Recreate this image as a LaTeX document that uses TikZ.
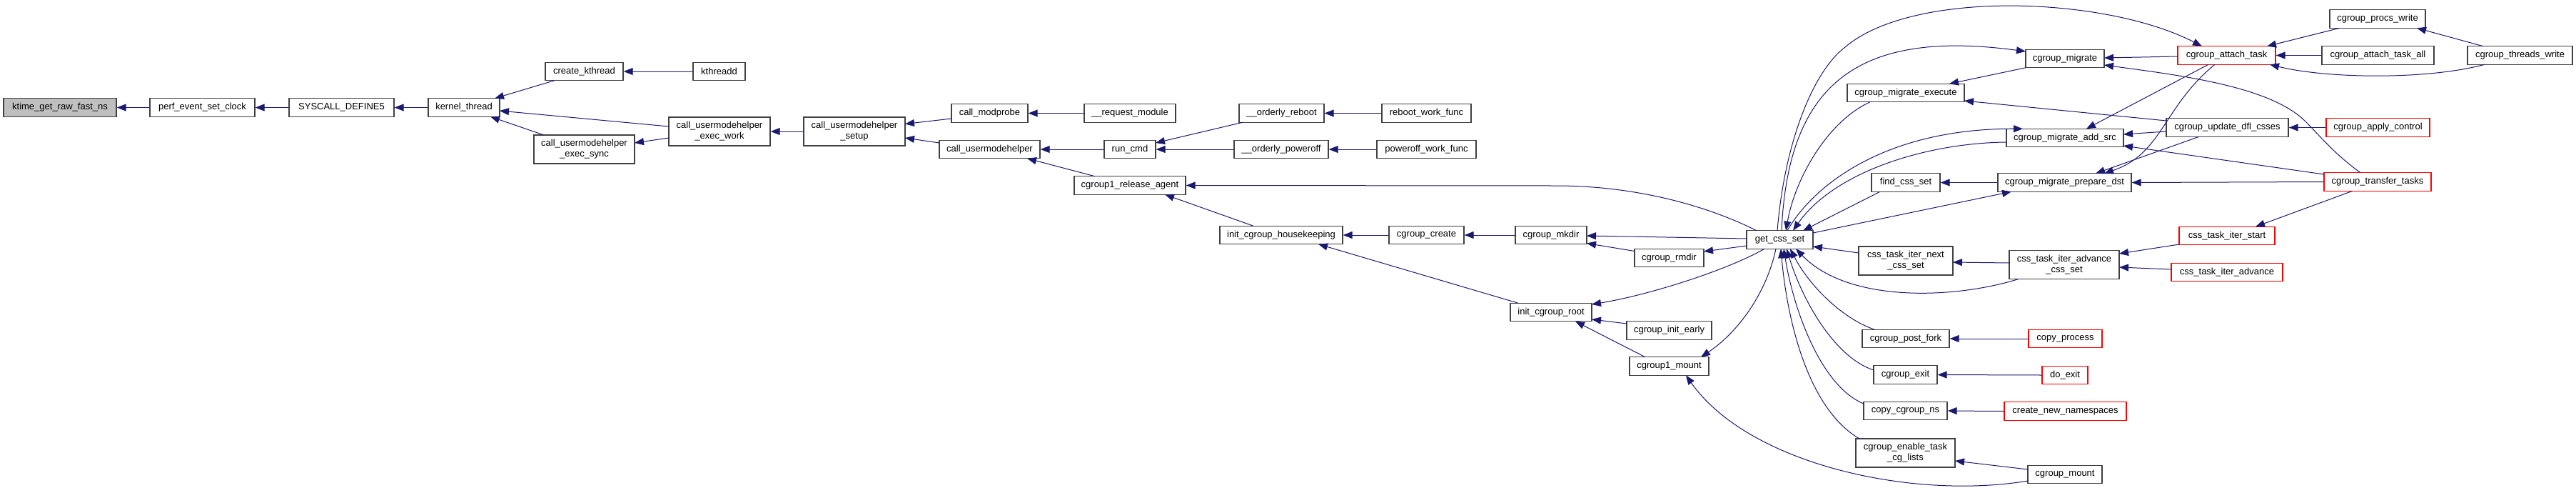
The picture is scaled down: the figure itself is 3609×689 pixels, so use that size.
\documentclass[tikz,border=0pt]{standalone}
\usepackage{fontspec}
\setmainfont{Liberation Sans}
\usetikzlibrary{arrows.meta,calc}
\definecolor{edgeblue}{RGB}{25,25,112}
\definecolor{boxline}{RGB}{64,64,64}
\definecolor{startfill}{RGB}{191,191,191}
\definecolor{redline}{RGB}{255,0,0}
\begin{document}
\begin{tikzpicture}[x=1pt,y=-1pt,
  fn/.style={draw=boxline, line width=1.3pt, fill=white, inner sep=0pt, minimum height=25.5pt, align=center, font=\fontsize{13}{15}\selectfont},
  fn2/.style={fn, minimum height=40pt},
  redbox/.style={draw=redline},
  e/.style={draw=edgeblue, line width=1.0pt, -{Triangle[length=13pt,width=10pt]}}]
\useasboundingbox (0,0) rectangle (3609,689);
% nodes
\node[fn, fill=startfill, minimum width=158pt] (ktime) at (84,150.5) {ktime\_get\_raw\_fast\_ns};
\node[fn, minimum width=147pt] (perf) at (283.5,150.5) {perf\_event\_set\_clock};
\node[fn, minimum width=147pt] (sysdef) at (478.5,150.5) {SYSCALL\_DEFINE5};
\node[fn, minimum width=100pt] (kthread) at (650,150.5) {kernel\_thread};
\node[fn, minimum width=109pt] (ckthread) at (818.5,100) {create\_kthread};
\node[fn, minimum width=73pt] (kthreadd) at (1007.5,100) {kthreadd};
\node[fn2, minimum width=142pt] (cuhwork) at (1008,184) {call\_usermodehelper\\\_exec\_work};
\node[fn2, minimum width=141pt] (cuhsync) at (818.5,209) {call\_usermodehelper\\\_exec\_sync};
\node[fn2, minimum width=142pt] (cuhsetup) at (1197,184) {call\_usermodehelper\\\_setup};
\node[fn, minimum width=107pt] (modprobe) at (1386.5,158.5) {call\_modprobe};
\node[fn, minimum width=128pt] (reqmod) at (1583,158.5) {\_\_request\_module};
\node[fn, minimum width=141pt] (cuh) at (1386.5,209) {call\_usermodehelper};
\node[fn, minimum width=72pt] (runcmd) at (1583,209) {run\_cmd};
\node[fn, minimum width=156pt] (relagent) at (1583,259.5) {cgroup1\_release\_agent};
\node[fn, minimum width=119pt] (oreboot) at (1795.5,158.5) {\_\_orderly\_reboot};
\node[fn, minimum width=132pt] (opoweroff) at (1795,209) {\_\_orderly\_poweroff};
\node[fn, minimum width=125pt] (rebootwf) at (1998.5,158.5) {reboot\_work\_func};
\node[fn, minimum width=139pt] (poweroffwf) at (1998.5,209) {poweroff\_work\_func};
\node[fn, minimum width=172pt] (housekeep) at (1795,329) {init\_cgroup\_housekeeping};
\node[fn, minimum width=105pt] (ccreate) at (1998.5,329) {cgroup\_create};
\node[fn, minimum width=100pt] (mkdir) at (2173,329) {cgroup\_mkdir};
\node[fn, minimum width=97pt] (rmdir) at (2338.5,361) {cgroup\_rmdir};
\node[fn, minimum width=114pt] (initroot) at (2173,437) {init\_cgroup\_root};
\node[fn, minimum width=119pt] (initearly) at (2338.5,462.5) {cgroup\_init\_early};
\node[fn, minimum width=111pt] (c1mount) at (2338.5,512.5) {cgroup1\_mount};
\node[fn, minimum width=93pt] (getcss) at (2493.5,335.5) {get\_css\_set};
\node[fn, minimum width=110pt] (migrate) at (2893,82) {cgroup\_migrate};
\node[fn, minimum width=164pt] (mexec) at (2670,130) {cgroup\_migrate\_execute};
\node[fn, minimum width=164pt] (addsrc) at (2893,193) {cgroup\_migrate\_add\_src};
\node[fn, minimum width=96pt] (findcss) at (2670,255.5) {find\_css\_set};
\node[fn, minimum width=187pt] (prepdst) at (2892.5,255.5) {cgroup\_migrate\_prepare\_dst};
\node[fn2, minimum width=132pt] (nextcss) at (2670,365) {css\_task\_iter\_next\\\_css\_set};
\node[fn2, minimum width=154pt] (advcss) at (2892,370.5) {css\_task\_iter\_advance\\\_css\_set};
\node[fn, minimum width=122pt] (postfork) at (2670,474) {cgroup\_post\_fork};
\node[fn, redbox, minimum width=103pt] (copyproc) at (2893.5,474) {copy\_process};
\node[fn, minimum width=89pt] (cexit) at (2669.5,524.5) {cgroup\_exit};
\node[fn, redbox, minimum width=64pt] (doexit) at (2893,525) {do\_exit};
\node[fn, minimum width=117pt] (copyns) at (2669.5,575) {copy\_cgroup\_ns};
\node[fn, redbox, minimum width=171pt] (newns) at (2893.5,575.5) {create\_new\_namespaces};
\node[fn2, minimum width=139pt] (enable) at (2669.5,634) {cgroup\_enable\_task\\\_cg\_lists};
\node[fn, minimum width=104pt] (cmount) at (2893,664) {cgroup\_mount};
\node[fn, redbox, minimum width=137pt] (attach) at (3119.5,77.5) {cgroup\_attach\_task};
\node[fn, minimum width=134pt] (procs) at (3331,26.5) {cgroup\_procs\_write};
\node[fn, minimum width=157pt] (attachall) at (3331.5,77.5) {cgroup\_attach\_task\_all};
\node[fn, minimum width=147pt] (threads) at (3530.5,77.5) {cgroup\_threads\_write};
\node[fn, minimum width=171pt] (updfl) at (3120.5,178.5) {cgroup\_update\_dfl\_csses};
\node[fn, redbox, minimum width=145pt] (applyc) at (3331.5,178.5) {cgroup\_apply\_control};
\node[fn, redbox, minimum width=150pt] (transfer) at (3331,254.5) {cgroup\_transfer\_tasks};
\node[fn, redbox, minimum width=134pt] (itstart) at (3120,330) {css\_task\_iter\_start};
\node[fn, redbox, minimum width=156pt] (itadv) at (3120,381) {css\_task\_iter\_advance};
% edges (tail = caller, head = callee)
\draw[e] (perf.west) -- (ktime.east);
\draw[e] (sysdef.west) -- (perf.east);
\draw[e] (kthread.west) -- (sysdef.east);
\draw[e] ($(ckthread)+(-42,12.75)$) -- ($(kthread)+(43,-12.75)$);
\draw[e] ($(cuhwork)+(-71,-7)$) -- ($(kthread)+(50,4.5)$);
\draw[e] ($(cuhsync)+(-56.5,-20)$) -- ($(kthread)+(37,12.75)$);
\draw[e] (kthreadd.west) -- (ckthread.east);
\draw[e] ($(cuhwork)+(-71,9)$) -- ($(cuhsync)+(70.5,-9)$);
\draw[e] (cuhsetup.west) -- (cuhwork.east);
\draw[e] ($(modprobe)+(-53.5,7.5)$) -- ($(cuhsetup)+(71,-10.5)$);
\draw[e] ($(cuh)+(-70.5,-9)$) -- ($(cuhsetup)+(71,9)$);
\draw[e] (reqmod.west) -- (modprobe.east);
\draw[e] (runcmd.west) -- (cuh.east);
\draw[e] ($(relagent)+(-49,-12.75)$) -- ($(cuh)+(52.5,12.75)$);
\draw[e] ($(oreboot)+(-54.5,12.75)$) -- ($(runcmd)+(36,-9)$);
\draw[e] (opoweroff.west) -- (runcmd.east);
\draw[e] (rebootwf.west) -- (oreboot.east);
\draw[e] (poweroffwf.west) -- (opoweroff.east);
\draw[e] ($(getcss)+(-32.5,-12.75)$) .. controls (2400,292) and (2300,260) .. (2180,260) -- (relagent.east);
\draw[e] ($(housekeep)+(-39,-12.75)$) -- ($(relagent)+(49,12.75)$);
\draw[e] (ccreate.west) -- (housekeep.east);
\draw[e] ($(initroot)+(-46,-12.75)$) -- ($(housekeep)+(52,12.75)$);
\draw[e] (mkdir.west) -- (ccreate.east);
\draw[e] ($(getcss)+(-46.5,-1.5)$) -- ($(mkdir)+(50,1)$);
\draw[e] ($(rmdir)+(-48.5,-9.5)$) -- ($(mkdir)+(50,11.5)$);
\draw[e] ($(getcss)+(-46.5,8.5)$) -- ($(rmdir)+(48.5,-9)$);
\draw[e] ($(getcss)+(-21.5,12.75)$) .. controls (2420,378) and (2310,413) .. ($(initroot)+(57,-11)$);
\draw[e] ($(initearly)+(-59.5,-9.5)$) -- ($(initroot)+(57,10)$);
\draw[e] ($(c1mount)+(-33.5,-12.75)$) -- ($(initroot)+(34,12.75)$);
\draw[e] ($(getcss)+(-5.5,12.75)$) .. controls (2475,410) and (2435,465) .. ($(c1mount)+(44.5,-12.75)$);
\draw[e] ($(cmount)+(-52,9)$) .. controls (2680,700) and (2450,650) .. ($(c1mount)+(23.5,12.75)$);
% get_css_set right side
\draw[e] ($(getcss)+(-3.5,-12.75)$) .. controls (2500,200) and (2540,100) .. (2585,66) .. controls (2680,-15) and (2950,-5) .. ($(attach)+(-34.5,-12.75)$);
\draw[e] ($(getcss)+(2.5,-12.75)$) .. controls (2505,120) and (2600,40) .. ($(migrate)+(-55,-10)$);
\draw[e] ($(mexec)+(-50,12.75)$) .. controls (2560,170) and (2515,250) .. ($(getcss)+(8.5,-12.75)$);
\draw[e] ($(getcss)+(10.5,-12.75)$) .. controls (2540,260) and (2640,180) .. ($(addsrc)+(-59,-12.75)$);
\draw[e] ($(addsrc)+(-82,6)$) .. controls (2700,200) and (2570,240) .. ($(getcss)+(18.5,-12.75)$);
\draw[e] ($(findcss)+(-36,12.75)$) -- ($(getcss)+(32.5,-12.75)$);
\draw[e] ($(getcss)+(46.5,-9.5)$) -- ($(prepdst)+(-74.5,12.75)$);
\draw[e] ($(nextcss)+(-66,-11)$) -- ($(getcss)+(46.5,9.5)$);
\draw[e] ($(advcss)+(-64,20)$) .. controls (2740,418) and (2590,425) .. ($(getcss)+(22.5,12.75)$);
\draw[e] ($(postfork)+(-44,-12.75)$) .. controls (2580,445) and (2535,400) .. ($(getcss)+(14.5,12.75)$);
\draw[e] ($(cexit)+(-44.5,-6.5)$) .. controls (2570,500) and (2525,420) .. ($(getcss)+(9.5,12.75)$);
\draw[e] ($(copyns)+(-58.5,-10)$) .. controls (2550,540) and (2512,430) .. ($(getcss)+(5.5,12.75)$);
\draw[e] ($(enable)+(-64.5,-20)$) .. controls (2530,570) and (2503,440) .. ($(getcss)+(1.5,12.75)$);
% right part
\draw[e] ($(attach)+(-68.5,1.5)$) -- ($(migrate)+(55,-1)$);
\draw[e] ($(transfer)+(-24,-12.75)$) .. controls (3270,215) and (3250,190) .. (3230,170) .. controls (3180,120) and (3050,105) .. ($(migrate)+(55,9)$);
\draw[e] ($(migrate)+(-55,12.75)$) -- ($(mexec)+(61,-12.75)$);
\draw[e] ($(updfl)+(-85.5,-9.5)$) -- ($(mexec)+(82,11)$);
\draw[e] ($(attach)+(-25.5,12.75)$) -- ($(addsrc)+(30,-12.75)$);
\draw[e] ($(updfl)+(-85.5,5.5)$) -- ($(addsrc)+(82,-5)$);
\draw[e] ($(transfer)+(-75,-10.5)$) -- ($(addsrc)+(82,11)$);
\draw[e] ($(attach)+(-16.5,12.75)$) .. controls (3030,150) and (3030,215) .. ($(prepdst)+(55.5,-12.75)$);
\draw[e] ($(updfl)+(-39.5,12.75)$) -- ($(prepdst)+(43.5,-12.75)$);
\draw[e] (transfer.west) -- (prepdst.east);
\draw[e] (prepdst.west) -- (findcss.east);
\draw[e] ($(procs)+(-53,12.75)$) -- ($(attach)+(56.5,-12.75)$);
\draw[e] (attachall.west) -- (attach.east);
\draw[e] ($(threads)+(-49.5,12.75)$) .. controls (3400,112) and (3260,110) .. ($(attach)+(60.5,12.75)$);
\draw[e] ($(threads)+(-51.5,-12.75)$) -- ($(procs)+(55,12.75)$);
\draw[e] (applyc.west) -- (updfl.east);
\draw[e] ($(itstart)+(-67,12)$) -- ($(advcss)+(77,-15.5)$);
\draw[e] ($(itadv)+(-78,-4)$) -- ($(advcss)+(77,3.5)$);
\draw[e] ($(transfer)+(-35,12.75)$) -- ($(itstart)+(40,-12.75)$);
\draw[e] ($(advcss)+(-77,-2.5)$) -- ($(nextcss)+(66,2)$);
\draw[e] (copyproc.west) -- (postfork.east);
\draw[e] (doexit.west) -- (cexit.east);
\draw[e] (newns.west) -- (copyns.east);
\draw[e] ($(cmount)+(-52,-7)$) -- ($(enable)+(69.5,11)$);
\end{tikzpicture}
\end{document}
